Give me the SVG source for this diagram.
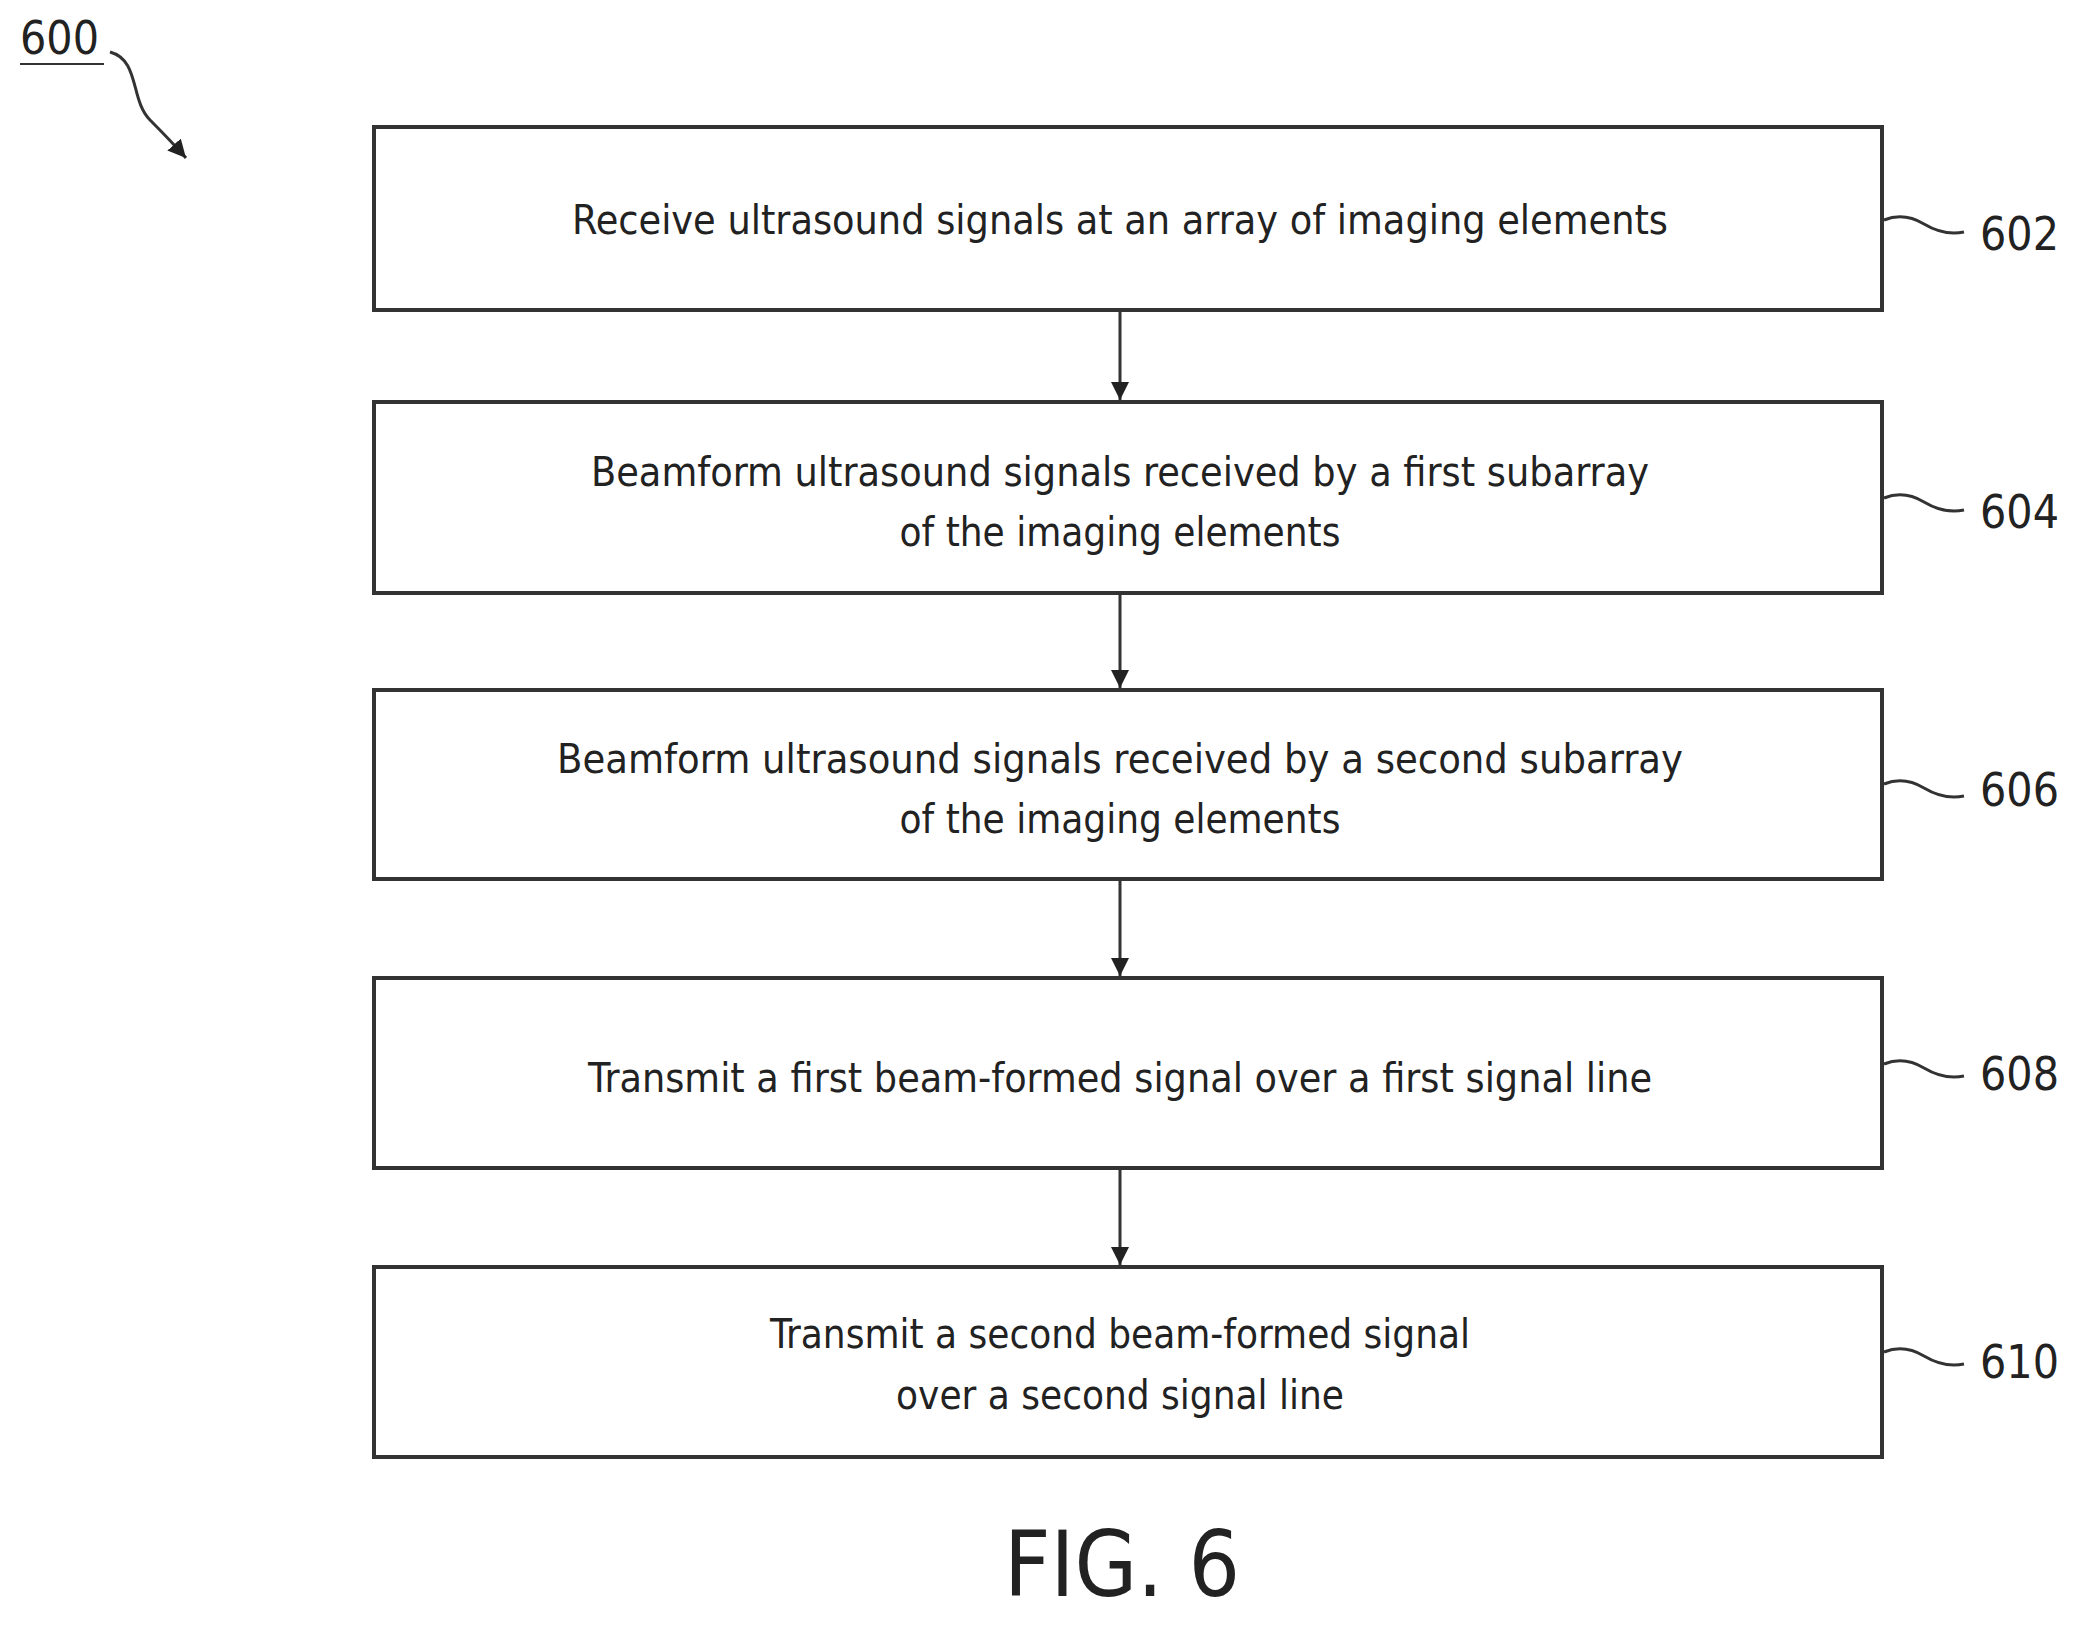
<svg xmlns="http://www.w3.org/2000/svg" width="2079" height="1626" viewBox="0 0 2079 1626">
<defs><marker id="ah" markerWidth="20" markerHeight="20" refX="18" refY="9" orient="auto" markerUnits="userSpaceOnUse"><path d="M0,0 L18,9 L0,18 Z" fill="#222"/></marker></defs>
<style>
.box{fill:#fff;stroke:#333;stroke-width:4}
.t{font-family:"DejaVu Sans Condensed","Liberation Sans Narrow","Liberation Sans",sans-serif;font-size:40px;fill:#222;text-anchor:middle}
.n{font-family:"DejaVu Sans Condensed","Liberation Sans",sans-serif;font-size:46px;fill:#222}
.c{stroke:#333;stroke-width:3;fill:none}
</style>
<rect width="2079" height="1626" fill="#fff"/>
<g id="ref600"><text class="n" x="20" y="54" font-size="44">600</text><line x1="20" y1="64" x2="104" y2="64" stroke="#333" stroke-width="2"/><path class="c" d="M110,52 C140,60 130,100 150,120 C160,130 170,140 186,158" marker-end="url(#ah)"/></g>
<g id="n602"><rect class="box" x="374" y="127" width="1508" height="183"/><text class="t" x="1120" y="234" textLength="1096" lengthAdjust="spacingAndGlyphs">Receive ultrasound signals at an array of imaging elements</text><path class="c" d="M1884,220 q20,-8 40,4 t40,8"/><text class="n" x="1980" y="250">602</text></g>
<g id="n604"><rect class="box" x="374" y="402" width="1508" height="191"/><text class="t" x="1120" y="486" textLength="1058" lengthAdjust="spacingAndGlyphs">Beamform ultrasound signals received by a first subarray</text><text class="t" x="1120" y="546">of the imaging elements</text><path class="c" d="M1884,498 q20,-8 40,4 t40,8"/><text class="n" x="1980" y="528">604</text></g>
<g id="n606"><rect class="box" x="374" y="690" width="1508" height="189"/><text class="t" x="1120" y="773" textLength="1126" lengthAdjust="spacingAndGlyphs">Beamform ultrasound signals received by a second subarray</text><text class="t" x="1120" y="833">of the imaging elements</text><path class="c" d="M1884,784 q20,-8 40,4 t40,8"/><text class="n" x="1980" y="806">606</text></g>
<g id="n608"><rect class="box" x="374" y="978" width="1508" height="190"/><text class="t" x="1120" y="1092" textLength="1064" lengthAdjust="spacingAndGlyphs">Transmit a first beam-formed signal over a first signal line</text><path class="c" d="M1884,1064 q20,-8 40,4 t40,8"/><text class="n" x="1980" y="1090">608</text></g>
<g id="n610"><rect class="box" x="374" y="1267" width="1508" height="190"/><text class="t" x="1120" y="1348">Transmit a second beam-formed signal</text><text class="t" x="1120" y="1409">over a second signal line</text><path class="c" d="M1884,1352 q20,-8 40,4 t40,8"/><text class="n" x="1980" y="1378">610</text></g>
<g id="connectors">
<line class="c" x1="1120" y1="310" x2="1120" y2="400" marker-end="url(#ah)"/>
<line class="c" x1="1120" y1="593" x2="1120" y2="688" marker-end="url(#ah)"/>
<line class="c" x1="1120" y1="879" x2="1120" y2="976" marker-end="url(#ah)"/>
<line class="c" x1="1120" y1="1168" x2="1120" y2="1265" marker-end="url(#ah)"/>
</g>
<text x="1122" y="1596" font-family="DejaVu Sans Condensed,Liberation Sans,sans-serif" font-size="90" fill="#222" text-anchor="middle">FIG. 6</text>
</svg>
